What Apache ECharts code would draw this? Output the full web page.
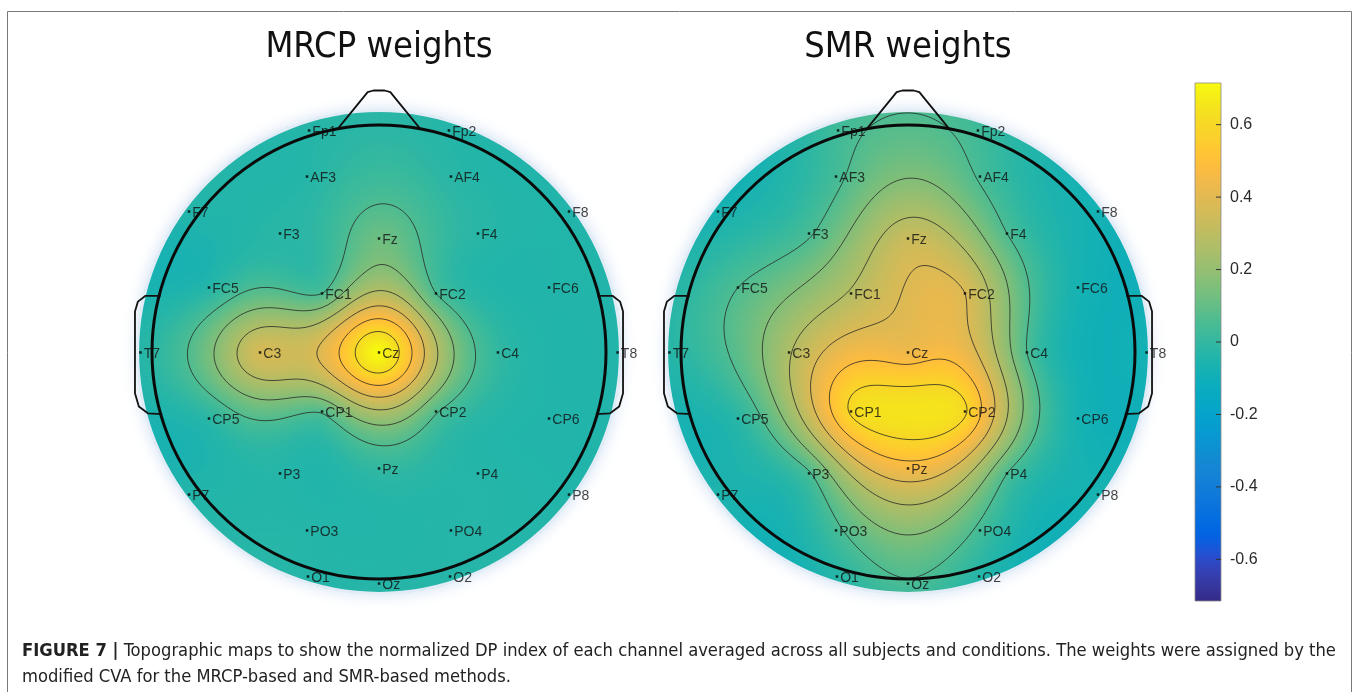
<!DOCTYPE html>
<html>
<head>
<meta charset="utf-8">
<script src="https://cdn.jsdelivr.net/npm/echarts@6/dist/echarts.min.js"></script>
<style>
  html, body { margin: 0; padding: 0; background: #fff; }
  #chart { width: 1358px; height: 692px; }
</style>
</head>
<body>
<div id="chart"></div>
<script>
// 32-channel montage
const channels = ['Fp1','Fp2','AF3','AF4','F7','F3','Fz','F4','F8','FC5','FC1','FC2','FC6',
  'T7','C3','Cz','C4','T8','CP5','CP1','CP2','CP6','P7','P3','Pz','P4','P8','PO3','PO4','O1','Oz','O2'];
// channel positions in head radii (x to the right ear, y towards the nose)
const channelX = [-0.308, 0.308, -0.317, 0.317, -0.837, -0.436, 0, 0.436, 0.837, -0.749, -0.251, 0.251, 0.749,
  -1.051, -0.524, 0, 0.524, 1.051, -0.749, -0.251, 0.251, 0.749, -0.837, -0.436, 0, 0.436, 0.837, -0.317, 0.317, -0.313, 0, 0.313];
const channelY = [0.976, 0.976, 0.773, 0.773, 0.619, 0.522, 0.500, 0.522, 0.619, 0.284, 0.258, 0.258, 0.284,
  -0.002, -0.002, -0.002, -0.002, -0.002, -0.293, -0.262, -0.262, -0.293, -0.628, -0.535, -0.513, -0.535, -0.628, -0.786, -0.786, -0.989, -1.02, -0.989];

// normalized DP index of each channel
const mrcpWeights = [-0.03, -0.03, -0.03, -0.02, -0.04, -0.02, 0.12, -0.02, -0.04, -0.03, 0.06, 0.06, -0.04,
  -0.03, 0.36, 0.71, 0.00, -0.04, -0.02, 0.07, 0.07, -0.04, -0.04, -0.03, 0.00, -0.03, -0.04, -0.03, -0.03, -0.03, -0.03, -0.03];
const smrWeights = [0.03, 0.03, 0.04, 0.05, -0.07, 0.05, 0.33, 0.06, -0.08, 0.06, 0.28, 0.38, -0.07,
  -0.03, 0.26, 0.44, 0.06, -0.08, -0.02, 0.60, 0.60, -0.07, -0.05, 0.05, 0.45, 0.06, -0.07, 0.04, 0.04, -0.03, 0.05, -0.03];

// contour levels of each map
const mrcpLevels = [0.06, 0.16, 0.27, 0.38, 0.49, 0.60];
const smrLevels = [0.06, 0.16, 0.27, 0.38, 0.49, 0.59];

const mapTitles = ['MRCP weights', 'SMR weights'];
const colorbarTicks = [-0.6, -0.4, -0.2, 0, 0.2, 0.4, 0.6];
const colorMin = -0.715, colorMax = 0.715;

// parula colormap
const parula = [[0.2081,0.1663,0.5292],[0.2116,0.1898,0.5777],[0.2123,0.2138,0.627],[0.2081,0.2386,0.6771],
[0.1959,0.2645,0.7279],[0.1707,0.2919,0.7792],[0.1253,0.3242,0.8303],[0.0591,0.3598,0.8683],
[0.0117,0.3875,0.882],[0.006,0.4086,0.8828],[0.0165,0.4266,0.8786],[0.0329,0.443,0.872],
[0.0498,0.4586,0.8641],[0.0629,0.4737,0.8554],[0.0723,0.4887,0.8467],[0.0779,0.504,0.8384],
[0.0793,0.52,0.8312],[0.0749,0.5375,0.8263],[0.0641,0.557,0.824],[0.0488,0.5772,0.8228],
[0.0343,0.5966,0.8199],[0.0265,0.6137,0.8135],[0.0239,0.6287,0.8038],[0.0231,0.6418,0.7913],
[0.0228,0.6535,0.7768],[0.0267,0.6642,0.7607],[0.0384,0.6743,0.7436],[0.059,0.6838,0.7254],
[0.0843,0.6928,0.7062],[0.1133,0.7015,0.6859],[0.1453,0.7098,0.6646],[0.1801,0.7177,0.6424],
[0.2178,0.725,0.6193],[0.2586,0.7317,0.5954],[0.3022,0.7376,0.5712],[0.3482,0.7424,0.5473],
[0.3953,0.7459,0.5244],[0.442,0.7481,0.5033],[0.4871,0.7491,0.484],[0.53,0.7491,0.4661],
[0.5709,0.7485,0.4494],[0.6099,0.7473,0.4337],[0.6473,0.7456,0.4188],[0.6834,0.7435,0.4044],
[0.7184,0.7411,0.3905],[0.7525,0.7384,0.3768],[0.7858,0.7356,0.3633],[0.8185,0.7327,0.3498],
[0.8507,0.7299,0.336],[0.8824,0.7274,0.3217],[0.9139,0.7258,0.3063],[0.945,0.7261,0.2886],
[0.9739,0.7314,0.2666],[0.9938,0.7455,0.2403],[0.999,0.7653,0.2164],[0.9955,0.7861,0.1967],
[0.988,0.8066,0.1794],[0.9789,0.8271,0.1633],[0.9697,0.8481,0.1475],[0.9626,0.8705,0.1309],
[0.9589,0.8949,0.1132],[0.9598,0.9218,0.0948],[0.9661,0.9514,0.0755],[0.9763,0.9831,0.0538]]
  .map(c => 'rgb(' + c.map(v => Math.round(v * 255)).join(',') + ')');

// ---- map geometry (in head radii) ----
const UNIT = 227;            // pixels per head radius
const N = 272;               // interpolation grid size (2 px cells)
const EXT = N / UNIT;        // half extent of each map's axes
const DISK = 240 / 227;      // radius of the interpolated disk
const cellSize = 2 * EXT / N;
const nodes = Array.from({ length: N }, (_, i) => -EXT + (i + 0.5) * cellSize);
const categories = Array.from({ length: N }, (_, i) => i);
const centers = [[379, 352], [908, 352]];

// biharmonic spline interpolation of the channel values
function green(r) { return r > 0 ? r * r * (Math.log(r) - 1) : 0; }
function solve(A, b) {
  const n = b.length;
  const M = A.map((row, i) => row.concat([b[i]]));
  for (let c = 0; c < n; c++) {
    let p = c;
    for (let r = c + 1; r < n; r++) if (Math.abs(M[r][c]) > Math.abs(M[p][c])) p = r;
    [M[c], M[p]] = [M[p], M[c]];
    for (let r = c + 1; r < n; r++) {
      const f = M[r][c] / M[c][c];
      for (let k = c; k <= n; k++) M[r][k] -= f * M[c][k];
    }
  }
  const x = new Array(n).fill(0);
  for (let r = n - 1; r >= 0; r--) {
    let s = M[r][n];
    for (let k = r + 1; k < n; k++) s -= M[r][k] * x[k];
    x[r] = s / M[r][r];
  }
  return x;
}
function fieldOf(values) {
  const px = channelX.map(v => v * 0.5), py = channelY.map(v => v * 0.5);
  const G = px.map((_, i) => px.map((__, j) => green(Math.hypot(px[i] - px[j], py[i] - py[j]))));
  const w = solve(G, values.slice());
  const Z = [];
  for (let j = 0; j < N; j++) {
    const row = new Float64Array(N);
    for (let i = 0; i < N; i++) {
      const x = nodes[i] * 0.5, y = nodes[j] * 0.5;
      if (Math.hypot(nodes[i], nodes[j]) > DISK + 0.05) { row[i] = NaN; continue; }
      let s = 0;
      for (let k = 0; k < px.length; k++) s += w[k] * green(Math.hypot(x - px[k], y - py[k]));
      row[i] = s;
    }
    Z.push(row);
  }
  return Z;
}

// marching squares, joined into polylines and clipped to the disk
function contourLines(Z, level) {
  const pts = new Map(), adj = new Map();
  const pt = (k, x1, y1, v1, x2, y2, v2) => {
    if (!pts.has(k)) { const t = (level - v1) / (v2 - v1); pts.set(k, [x1 + t * (x2 - x1), y1 + t * (y2 - y1)]); }
    return k;
  };
  const link = (a, b) => {
    if (!adj.has(a)) adj.set(a, []);
    if (!adj.has(b)) adj.set(b, []);
    adj.get(a).push(b); adj.get(b).push(a);
  };
  for (let j = 0; j < N - 1; j++) {
    for (let i = 0; i < N - 1; i++) {
      const a = Z[j][i], b = Z[j][i + 1], c = Z[j + 1][i + 1], d = Z[j + 1][i];
      if (isNaN(a) || isNaN(b) || isNaN(c) || isNaN(d)) continue;
      const A = a > level, B = b > level, C = c > level, D = d > level;
      if (A === B && B === C && C === D) continue;
      const x0 = nodes[i], x1 = nodes[i + 1], y0 = nodes[j], y1 = nodes[j + 1];
      let k0, k1, k2, k3;
      if (A !== B) k0 = pt('h' + i + '_' + j, x0, y0, a, x1, y0, b);
      if (B !== C) k1 = pt('v' + (i + 1) + '_' + j, x1, y0, b, x1, y1, c);
      if (D !== C) k2 = pt('h' + i + '_' + (j + 1), x0, y1, d, x1, y1, c);
      if (A !== D) k3 = pt('v' + i + '_' + j, x0, y0, a, x0, y1, d);
      const ks = [k0, k1, k2, k3].filter(k => k !== undefined);
      if (ks.length === 2) link(ks[0], ks[1]);
      else if (ks.length === 4) {
        const mid = (a + b + c + d) / 4 > level;
        if (A === mid) { link(k0, k1); link(k2, k3); } else { link(k0, k3); link(k1, k2); }
      }
    }
  }
  const used = new Set(), chains = [];
  const walk = start => {
    const chain = [start]; used.add(start);
    let cur = start;
    for (;;) {
      const nb = adj.get(cur).filter(k => !used.has(k));
      if (!nb.length) break;
      cur = nb[0]; used.add(cur); chain.push(cur);
    }
    return chain;
  };
  for (const [k, v] of adj) if (v.length === 1 && !used.has(k)) chains.push(walk(k));
  for (const k of adj.keys()) if (!used.has(k)) { const c = walk(k); c.push(c[0]); chains.push(c); }
  const out = [];
  chains.forEach(ch => {
    let run = [];
    ch.forEach(k => {
      const p = pts.get(k);
      if (Math.hypot(p[0], p[1]) <= DISK - 0.004) run.push(p);
      else { if (run.length > 1) out.push(run); run = []; }
    });
    if (run.length > 1) out.push(run);
  });
  return out;
}

const weightSets = [mrcpWeights, smrWeights];
const levelSets = [mrcpLevels, smrLevels];
const fields = weightSets.map(fieldOf);
const heatData = fields.map(Z => {
  const out = [];
  for (let j = 0; j < N; j++) for (let i = 0; i < N; i++) {
    if (Math.hypot(nodes[i], nodes[j]) <= DISK + 0.004) out.push([i, j, Z[j][i]]);
  }
  return out;
});
const contourSets = fields.map((Z, m) => {
  const lines = [];
  levelSets[m].forEach(lv => contourLines(Z, lv).forEach(l => lines.push(l)));
  return lines;
});

// head outline: nose and ears, in head radii
const nose = [[-0.18, 0.985], [-0.05, 1.145], [-0.025, 1.152], [0.025, 1.152], [0.05, 1.145], [0.18, 0.985]];
const earRight = [[0.962, 0.247], [1.03, 0.247], [1.062, 0.222], [1.075, 0.178], [1.075, -0.182], [1.058, -0.24], [1.018, -0.27], [0.955, -0.274]];
const earLeft = earRight.map(p => [-p[0], p[1]]);

const FONT = "'Liberation Sans', Arial, sans-serif";
const NARROW = "'Liberation Sans Narrow', 'Arial Narrow', 'DejaVu Sans Condensed', sans-serif";

const grids = [], xAxes = [], yAxes = [], series = [];
centers.forEach((c, m) => {
  const half = EXT * UNIT;
  const box = { left: c[0] - half, top: c[1] - half, width: 2 * half, height: 2 * half };
  grids.push(Object.assign({}, box), Object.assign({}, box));
  xAxes.push({ gridIndex: 2 * m, type: 'category', data: categories, show: false },
             { gridIndex: 2 * m + 1, type: 'value', min: -EXT, max: EXT, show: false });
  yAxes.push({ gridIndex: 2 * m, type: 'category', data: categories, show: false },
             { gridIndex: 2 * m + 1, type: 'value', min: -EXT, max: EXT, show: false });
});
grids.push({ left: 1195, top: 83, width: 26, height: 518 });
xAxes.push({ gridIndex: 4, type: 'value', min: 0, max: 1, show: false });
yAxes.push({
  gridIndex: 4, type: 'value', min: colorMin, max: colorMax, position: 'right', z: 5,
  axisLine: { show: false }, splitLine: { show: false }, axisTick: { show: false },
  axisLabel: { customValues: colorbarTicks, fontSize: 16, color: '#2a2a2a', fontFamily: FONT, margin: 9,
    formatter: v => (Math.abs(v) < 1e-9 ? '0' : String(Math.round(v * 10) / 10)) }
});

// interpolated maps
[0, 1].forEach(m => {
  series.push({
    type: 'heatmap', xAxisIndex: 2 * m, yAxisIndex: 2 * m, data: heatData[m],
    progressive: 0, z: 2, itemStyle: { borderWidth: 0 }, emphasis: { disabled: true }
  });
});

[0, 1].forEach(m => {
  const ax = 2 * m + 1;
  // soft rim around the disk
  series.push({
    type: 'custom', xAxisIndex: ax, yAxisIndex: ax, z: 1, data: [[0, 0]], silent: true,
    renderItem: (params, api) => {
      const o = api.coord([0, 0]), u = api.size([1, 0])[0];
      return { type: 'circle', shape: { cx: o[0], cy: o[1], r: DISK * u + 3 },
        style: { fill: '#e8f0f9', shadowBlur: 16, shadowColor: 'rgba(212,226,243,1)' } };
    }
  });
  series.push({
    type: 'custom', xAxisIndex: ax, yAxisIndex: ax, z: 3, data: [[0, 0]], silent: true,
    renderItem: (params, api) => {
      const o = api.coord([0, 0]), u = api.size([1, 0])[0];
      return { type: 'circle', shape: { cx: o[0], cy: o[1], r: DISK * u + 1.2 },
        style: { fill: null, stroke: 'rgba(226,236,247,1)', lineWidth: 2.6 } };
    }
  });
  // contour lines
  series.push({
    type: 'custom', xAxisIndex: ax, yAxisIndex: ax, z: 4, silent: true,
    data: contourSets[m].map((_, k) => [0, 0, k]),
    renderItem: (params, api) => {
      const line = contourSets[m][api.value(2)];
      return { type: 'polyline', shape: { points: line.map(p => api.coord(p)) },
        style: { fill: null, stroke: 'rgba(35,35,35,0.85)', lineWidth: 0.9 } };
    }
  });
  // channel markers and names
  series.push({
    type: 'scatter', xAxisIndex: ax, yAxisIndex: ax, z: 5, silent: true,
    symbol: 'rect', symbolSize: 2.5, itemStyle: { color: '#000' },
    data: channels.map((name, i) => ({ name, value: [channelX[i], channelY[i]] })),
    label: { show: true, position: 'right', distance: 2, offset: [0, 1.5], formatter: '{b}',
      fontFamily: FONT, fontSize: 14, color: '#111' }
  });
  // head, nose and ears
  series.push({
    type: 'custom', xAxisIndex: ax, yAxisIndex: ax, z: 6, data: [[0, 0]], silent: true,
    renderItem: (params, api) => {
      const o = api.coord([0, 0]), u = api.size([1, 0])[0];
      const poly = pts => ({ type: 'polyline', shape: { points: pts.map(p => api.coord(p)) },
        style: { fill: null, stroke: '#111', lineWidth: 1.8, lineJoin: 'round' } });
      return { type: 'group', children: [
        poly(nose), poly(earLeft), poly(earRight),
        { type: 'circle', shape: { cx: o[0], cy: o[1], r: u }, style: { fill: null, stroke: '#0a0a0a', lineWidth: 3 } }
      ] };
    }
  });
});

// colorbar with inward ticks on its right edge
series.push({
  type: 'custom', xAxisIndex: 4, yAxisIndex: 4, z: 2, data: [[0, colorMin, 1, colorMax]], silent: true,
  renderItem: (params, api) => {
    const p0 = api.coord([api.value(0), api.value(3)]);
    const p1 = api.coord([api.value(2), api.value(1)]);
    const stops = parula.map((c, i) => ({ offset: 1 - i / (parula.length - 1), color: c })).reverse();
    const ticks = colorbarTicks.map(t => {
      const y = api.coord([1, t])[1];
      return { type: 'line', shape: { x1: p1[0] - 5, y1: y, x2: p1[0], y2: y }, style: { stroke: '#333', lineWidth: 1 } };
    });
    return { type: 'group', children: [
      { type: 'rect', shape: { x: p0[0], y: p0[1], width: p1[0] - p0[0], height: p1[1] - p0[1] },
        style: { fill: new echarts.graphic.LinearGradient(0, 0, 0, 1, stops), stroke: '#8a8a8a', lineWidth: 0.8 } },
      ...ticks
    ] };
  }
});

const chart = echarts.init(document.getElementById('chart'), null, { renderer: 'canvas' });
chart.setOption({
  animation: false,
  backgroundColor: '#ffffff',
  grid: grids, xAxis: xAxes, yAxis: yAxes,
  visualMap: { type: 'continuous', show: false, min: colorMin, max: colorMax, dimension: 2,
    seriesIndex: [0, 1], inRange: { color: parula } },
  graphic: [
    { type: 'rect', z: 0, silent: true, shape: { x: 7.5, y: 11.5, width: 1344, height: 720 },
      style: { fill: null, stroke: '#7a7a7a', lineWidth: 1 } },
    ...mapTitles.map((t, m) => ({
      type: 'text', z: 10, x: centers[m][0], y: 48, silent: true,
      style: { text: t, align: 'center', verticalAlign: 'middle', textAlign: 'center', textVerticalAlign: 'middle',
        font: '36px ' + NARROW, fill: '#111' }
    })),
    { type: 'text', z: 10, x: 22, y: 638, silent: true,
      style: {
        text: '{b|FIGURE 7 |} Topographic maps to show the normalized DP index of each channel averaged across all subjects and conditions. The weights were assigned by the\nmodified CVA for the MRCP-based and SMR-based methods.',
        font: '18.2px ' + NARROW, fill: '#222', lineHeight: 26,
        rich: { b: { fontWeight: 'bold', fontFamily: NARROW, fontSize: 18.2, fill: '#222' } }
      } }
  ],
  series
});
</script>
</body>
</html>
